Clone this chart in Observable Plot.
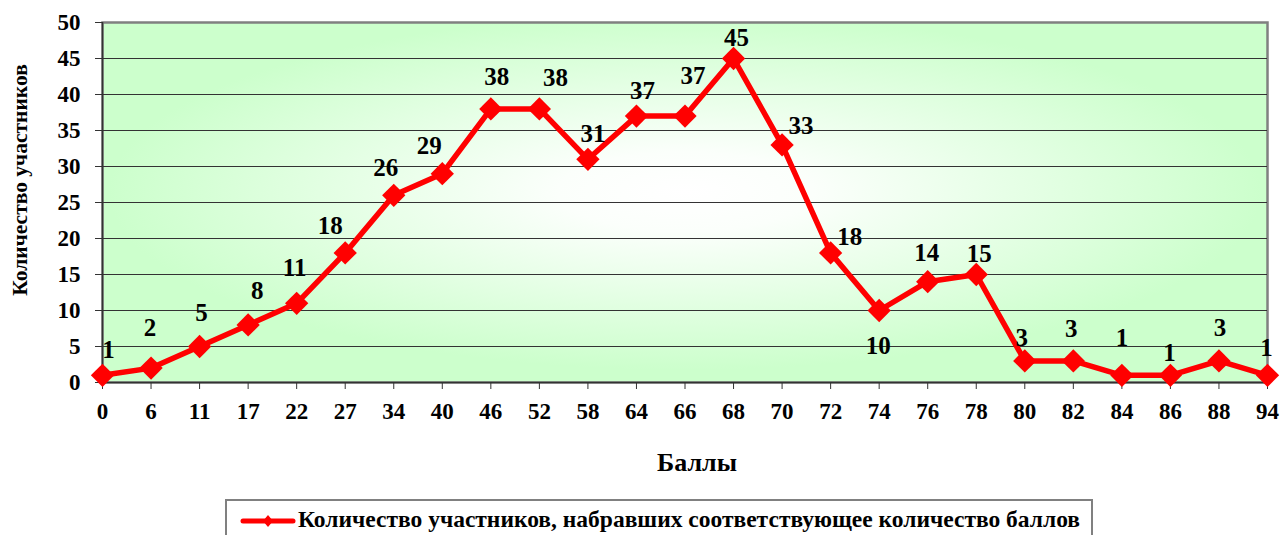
<!DOCTYPE html>
<html><head><meta charset="utf-8">
<script src="https://cdn.jsdelivr.net/npm/d3@7"></script>
<script src="https://cdn.jsdelivr.net/npm/@observablehq/plot@0.6"></script>
<style>
body{margin:0;background:#fff;}
#wrap{position:relative;width:1283px;height:535px;overflow:hidden;font-family:'Liberation Serif','DejaVu Serif',serif;font-weight:bold;color:#000;}
#wrap svg{position:absolute;left:0;top:0;}
#ytitle{position:absolute;left:20px;top:180px;transform:translate(-50%,-50%) rotate(-90deg);font-size:21.5px;white-space:nowrap;}
#xtitle{position:absolute;left:697px;top:463px;transform:translate(-50%,-50%);font-size:26px;white-space:nowrap;}
#legend{position:absolute;left:225px;top:499px;width:868px;height:60px;border:2px solid #808080;box-sizing:border-box;background:#fff;}
#legend svg{position:absolute;left:13px;top:12px;}
#legend span{position:absolute;left:71px;top:5px;font-size:23.5px;white-space:nowrap;}
</style></head><body><div id="wrap"></div>
<script>
const scores = ["0","6","11","17","22","27","34","40","46","52","58","64","66","68","70","72","74","76","78","80","82","84","86","88","94"];
const counts = [1,2,5,8,11,18,26,29,38,38,31,37,37,45,33,18,10,14,15,3,3,1,1,3,1];
const yTicks = [0,5,10,15,20,25,30,35,40,45,50];
const gridTicks = [5,10,15,20,25,30,35,40,45];
const xTitle = "Баллы";
const yTitle = "Количество участников";
const seriesName = "Количество участников, набравших соответствующее количество баллов";
// label nudges (px) relative to each point, as placed in the original
const labelDx = [6,-1,2,9,-2,-15,-8,-13,6,16,5,6,8,3,19,19,-1,-1,3,-3,-2,0,-1,1,-1];
const labelDy = [-25,-40,-34,-34,-35,-27,-27,-28,-32,-31,-25,-25,-40,-21,-19,-16,35,-29,-21,-23,-32,-37,-22,-33,-27];

const data = scores.map((s,i)=>({score:s, count:counts[i], i}));
const font = "Liberation Serif, DejaVu Serif, serif";

const labelMarks = data.map((d,i)=>Plot.text([d], {x:"score", y:"count", text:d=>String(d.count), dx:labelDx[i], dy:labelDy[i], fontSize:25, fontWeight:"bold", fontFamily:font, fill:"#000"}));

const chart = Plot.plot({
  width:1283, height:490,
  marginLeft:102, marginRight:16, marginTop:22, marginBottom:108,
  style:{fontFamily:font, fontWeight:"bold", fontSize:"23px", background:"transparent", color:"#000"},
  x:{type:"point", domain:scores, padding:0, round:false, insetLeft:0, insetRight:0, align:0.5},
  y:{domain:[0,50], insetTop:0, insetBottom:0},
  marks:[
    Plot.frame({fill:"url(#bgGrad)", stroke:"#808080", strokeWidth:2.5}),
    Plot.gridY(gridTicks, {stroke:"#333", strokeOpacity:1, strokeWidth:1.2}),
    Plot.ruleX([scores[0]], {stroke:"#333", strokeWidth:1.5}),
    Plot.ruleY([0], {stroke:"#333", strokeWidth:1.5}),
    Plot.axisY({ticks:yTicks, tickSize:7, tickPadding:15, label:null, stroke:"#333", fontSize:23, fontFamily:font}),
    Plot.axisX({tickSize:7, tickPadding:13, label:null, stroke:"#333", fontSize:23, fontFamily:font}),
    Plot.line(data, {x:"score", y:"count", stroke:"#ff0000", strokeWidth:5.5}),
    Plot.dot(data, {x:"score", y:"count", symbol:"diamond2", r:10.5, fill:"#ff0000", stroke:"none"}),
    ...labelMarks
  ]
});

const defs = d3.select(chart).insert("defs", ":first-child");
const g = defs.append("radialGradient").attr("id","bgGrad").attr("cx","0.5").attr("cy","0.47").attr("r","0.55");
g.append("stop").attr("offset","0").attr("stop-color","#ffffff");
g.append("stop").attr("offset","0.2").attr("stop-color","#fbfffb");
g.append("stop").attr("offset","0.9").attr("stop-color","#ccffcc");
g.append("stop").attr("offset","1").attr("stop-color","#ccffcc");

const wrap = document.getElementById("wrap");
wrap.appendChild(chart);
const yt = document.createElement("div"); yt.id="ytitle"; yt.textContent=yTitle; wrap.appendChild(yt);
const xt = document.createElement("div"); xt.id="xtitle"; xt.textContent=xTitle; wrap.appendChild(xt);
const lg = document.createElement("div"); lg.id="legend";
lg.innerHTML = '<svg width="56" height="16"><line x1="3" y1="8" x2="53" y2="8" stroke="#ff0000" stroke-width="5" stroke-linecap="round"/><path d="M28 2 L33 8 L28 14 L23 8 Z" fill="#ff0000"/></svg>';
const sp = document.createElement("span"); sp.textContent = seriesName; lg.appendChild(sp);
wrap.appendChild(lg);
</script></body></html>
